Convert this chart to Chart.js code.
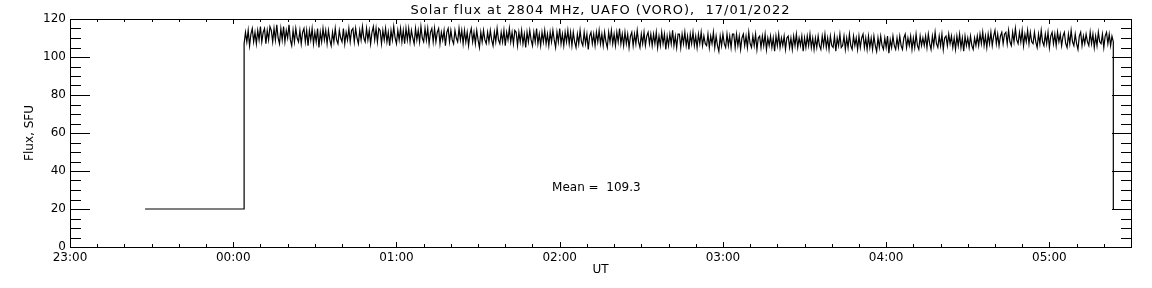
<!DOCTYPE html>
<html>
<head>
<meta charset="utf-8">
<script src="https://cdn.jsdelivr.net/npm/chart.js@4.4.1/dist/chart.umd.min.js"></script>
<style>
  body { margin: 0; background: #fff; }
  canvas { display: block; }
</style>
</head>
<body>
<canvas id="flux" width="1152" height="288"></canvas>
<script>
// temps en minutes depuis 23:00 UT
const xTickLabels = ['23:00', '00:00', '01:00', '02:00', '03:00', '04:00', '05:00'];
const yTickLabels = ['0', '20', '40', '60', '80', '100', '120'];

// palier avant l'enregistrement (20 SFU)
const preTimes = [27.6, 64.0];
const preFlux = [20, 20];

// flux mesuré, un point toutes les 30 s a partir de 00:04
const fluxStart = 64.0;
const fluxStep = 0.5;
const fluxValues = [
  107,113,108,114,106,112,115,108,113,107,114,109,116,108,113,115,107,114,109,116,
  114,108,115,109,117,110,107,115,109,116,108,114,110,117,109,106,114,108,115,110,
  108,114,107,113,115,108,114,106,114,109,115,107,113,108,115,105,113,108,115,109,
  114,107,114,109,106,113,108,115,109,107,114,110,108,115,107,113,109,115,108,114,
  115,108,115,110,107,114,109,116,110,108,115,109,114,107,113,116,109,115,108,115,
  114,107,114,109,115,108,113,106,114,109,116,110,107,114,109,115,108,114,107,115,
  109,115,108,114,110,107,115,109,114,108,116,110,108,115,109,115,107,113,115,108,
  115,108,113,115,107,113,109,114,106,113,115,108,114,109,107,114,110,108,115,109,
  114,107,114,108,113,106,112,115,108,113,107,114,109,105,113,108,114,109,107,113,
  108,114,109,106,113,108,115,109,107,113,108,114,106,113,109,115,108,113,107,114,
  113,106,113,108,114,107,112,105,113,108,114,109,106,113,108,115,107,112,106,113,
  108,114,107,112,106,113,108,114,109,105,113,108,115,107,112,106,113,108,114,107,
  113,106,113,108,105,112,107,114,108,106,113,107,112,104,111,113,107,112,106,113,
  108,114,107,112,106,113,108,105,113,108,114,107,112,106,113,108,115,107,112,106,
  113,107,112,105,111,113,106,112,107,114,108,105,112,107,113,106,111,113,107,112,
  106,112,107,113,105,111,106,113,107,112,104,111,106,112,107,114,106,111,105,112,
  112,105,112,107,113,106,111,104,112,107,113,106,111,105,112,107,113,106,111,107,
  106,112,105,111,107,113,105,111,106,103,111,106,112,107,105,112,106,111,105,112,
  112,105,112,106,111,104,110,112,106,111,105,113,107,105,111,106,112,104,110,111,
  105,111,106,112,104,110,106,111,105,110,103,111,106,112,105,110,106,111,104,110,
  111,105,110,104,111,106,112,105,110,106,111,103,110,105,111,106,112,105,110,104,
  110,105,111,106,104,111,106,112,105,110,104,111,106,105,111,103,110,106,112,105,
  106,111,104,110,105,112,106,104,111,106,110,104,111,105,110,112,105,110,104,111,
  105,110,104,111,106,103,110,105,111,106,104,110,105,111,102,109,105,111,106,104,
  110,105,111,106,104,110,112,105,110,106,111,104,110,105,112,106,104,111,106,110,
  106,111,105,112,107,104,111,106,113,107,105,111,106,112,104,110,111,106,112,107,
  111,105,110,104,111,106,112,105,110,103,111,106,110,105,111,106,104,110,106,111,
  106,112,107,113,106,111,105,112,107,113,106,111,114,107,112,106,111,113,107,112,
  113,107,114,108,106,113,108,115,109,107,113,108,114,106,112,108,114,107,113,108,
  107,113,108,105,112,107,114,108,106,112,107,113,105,111,113,107,112,106,113,108,
  112,106,111,113,107,105,112,107,114,108,106,112,107,104,111,113,106,111,107,112,
  108,106,113,107,112,105,111,106,113,108,107,112,105,111,113,107,112,106,111,108
];

// retombée a la fin de l'enregistrement
const endTime = 383.5;
const endFlux = 20;

const meanText = 'Mean =  109.3';
const meanAt = [177.2, 29.5];
const titleText = 'Solar flux at 2804 MHz, UAFO (VORO),  17/01/2022';

var points = [];
for (let i = 0; i < preTimes.length; i++) {
    points.push({x: preTimes[i], y: preFlux[i]});
}
for (let i = 0; i < fluxValues.length; i++) {
    points.push({x: fluxStart + i * fluxStep, y: fluxValues[i]});
}
points.push({x: endTime, y: endFlux});

const tickFont = {family: 'DejaVu Sans', size: 12};

// cadre + graduations vers l'intérieur, comme IDL
const idlFrame = {
    id: 'idlFrame',
    afterDraw(chart) {
        const ctx = chart.ctx;
        const a = chart.chartArea;
        const xs = chart.scales.x;
        const ys = chart.scales.y;
        ctx.save();
        ctx.strokeStyle = '#000';
        ctx.lineWidth = 1;
        ctx.strokeRect(a.left + 0.5, a.top + 0.5, a.right - a.left, a.bottom - a.top);
        ctx.beginPath();
        for (let m = 0; m <= xs.max; m += 10) {
            const px = Math.round(xs.getPixelForValue(m)) + 0.5;
            const len = (m % 60 === 0) ? 5 : 3;
            ctx.moveTo(px, a.bottom);
            ctx.lineTo(px, a.bottom - len);
            ctx.moveTo(px, a.top);
            ctx.lineTo(px, a.top + len);
        }
        for (let v = 0; v <= ys.max; v += 5) {
            const py = Math.round(ys.getPixelForValue(v)) + 0.5;
            const len = (v % 20 === 0) ? 20 : 11;
            ctx.moveTo(a.left, py);
            ctx.lineTo(a.left + len, py);
            ctx.moveTo(a.right + 1, py);
            ctx.lineTo(a.right + 1 - len, py);
        }
        ctx.stroke();

        ctx.fillStyle = '#000';
        ctx.font = '12px "DejaVu Sans"';
        ctx.textAlign = 'left';
        ctx.textBaseline = 'alphabetic';
        ctx.fillText(meanText, xs.getPixelForValue(meanAt[0]), ys.getPixelForValue(meanAt[1]));

        ctx.font = '13px "DejaVu Sans"';
        ctx.letterSpacing = '1px';
        ctx.textAlign = 'center';
        ctx.fillText(titleText, (a.left + a.right) / 2, 14);
        ctx.letterSpacing = '0px';
        ctx.restore();
    }
};

const ctx = document.getElementById('flux');
const chart = new Chart(ctx, {
    type: 'line',
    data: {
        datasets: [{
            data: points,
            borderColor: '#000',
            borderWidth: 1.2,
            pointRadius: 0,
            tension: 0,
            fill: false
        }]
    },
    options: {
        responsive: false,
        animation: false,
        devicePixelRatio: 1,
        layout: {padding: {left: 0, right: 21, top: 19, bottom: 0}},
        plugins: {legend: {display: false}, tooltip: {enabled: false}},
        scales: {
            x: {
                type: 'linear',
                min: 0,
                max: 390,
                afterBuildTicks: function(scale) {
                    scale.ticks = scale.ticks.filter(t => t.value % 60 === 0);
                },
                afterFit: function(scale) { scale.height = 41; },
                ticks: {
                    stepSize: 60,
                    padding: 4,
                    maxRotation: 0,
                    color: '#000',
                    font: tickFont,
                    callback: function(value) { return xTickLabels[Math.round(value / 60)]; }
                },
                grid: {display: false, drawTicks: false},
                border: {display: false},
                title: {display: true, text: 'UT', color: '#000', font: tickFont, padding: {top: 0, bottom: 11}}
            },
            y: {
                min: 0,
                max: 120,
                afterFit: function(scale) { scale.width = 70; },
                ticks: {
                    stepSize: 20,
                    padding: 4,
                    color: '#000',
                    font: tickFont,
                    callback: function(value) { return yTickLabels[Math.round(value / 20)]; }
                },
                grid: {display: false, drawTicks: false},
                border: {display: false},
                title: {display: true, text: 'Flux, SFU', color: '#000', font: tickFont, padding: {top: 23, bottom: 0}}
            }
        }
    },
    plugins: [idlFrame]
});
</script>
</body>
</html>
